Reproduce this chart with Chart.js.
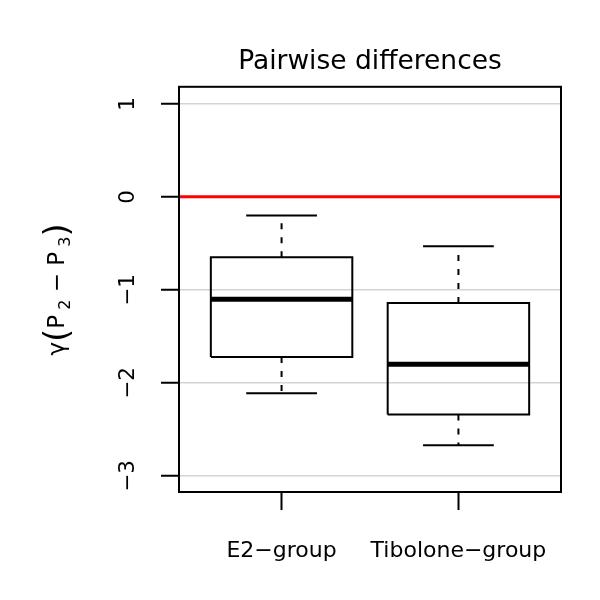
<!DOCTYPE html>
<html>
<head>
<meta charset="utf-8">
<script src="https://cdn.jsdelivr.net/npm/chart.js@4.4.1/dist/chart.umd.min.js"></script>
<style>
    html, body { margin: 0; padding: 0; background: #fff; }
</style>
</head>
<body>
<canvas id="chart" width="600" height="600"></canvas>
<script>
// values
const groups = ["E2\u2212group", "Tibolone\u2212group"];
const whiskerLow = [-2.11, -2.67];
const quartile1 = [-1.72, -2.34];
const medians = [-1.10, -1.80];
const quartile3 = [-0.65, -1.14];
const whiskerHigh = [-0.20, -0.53];
const yTicks = [-3, -2, -1, 0, 1];
const refValue = 0;

const FONT = "'DejaVu Sans', sans-serif";
const boxHalf = 0.4;
const stapleHalf = 0.2;
const xMin = 0.42;
const xMax = 2.58;

function seg(points, color, width, dash) {
    return {
        data: points,
        borderColor: color,
        borderWidth: width,
        borderDash: dash || [],
        pointRadius: 0,
        fill: false,
        tension: 0,
        borderCapStyle: "butt",
        borderJoinStyle: "miter",
    };
}

const datasets = [];
// red reference line on top (first dataset is drawn last)
datasets.push(seg([{ x: xMin, y: refValue }, { x: xMax, y: refValue }], "#ff0000", 3));

groups.forEach((g, i) => {
    const x = i + 1;
    datasets.push(seg([{ x: x - boxHalf, y: medians[i] }, { x: x + boxHalf, y: medians[i] }], "#000", 5));
    datasets.push(seg([
        { x: x - boxHalf, y: quartile1[i] },
        { x: x + boxHalf, y: quartile1[i] },
        { x: x + boxHalf, y: quartile3[i] },
        { x: x - boxHalf, y: quartile3[i] },
        { x: x - boxHalf, y: quartile1[i] },
    ], "#000", 2));
    datasets.push(seg([{ x: x, y: quartile3[i] }, { x: x, y: whiskerHigh[i] }], "#000", 2, [6, 8]));
    datasets.push(seg([{ x: x, y: quartile1[i] }, { x: x, y: whiskerLow[i] }], "#000", 2, [6, 8]));
    datasets.push(seg([{ x: x - stapleHalf, y: whiskerHigh[i] }, { x: x + stapleHalf, y: whiskerHigh[i] }], "#000", 2));
    datasets.push(seg([{ x: x - stapleHalf, y: whiskerLow[i] }, { x: x + stapleHalf, y: whiskerLow[i] }], "#000", 2));
});

// frame around the plot region, like R's box()
const framePlugin = {
    id: "frame",
    afterDatasetsDraw(chart) {
        const { ctx, chartArea: a } = chart;
        ctx.save();
        ctx.strokeStyle = "#000";
        ctx.lineWidth = 2;
        ctx.strokeRect(a.left, a.top, a.right - a.left, a.bottom - a.top);
        ctx.restore();
    },
};

// y axis label with subscripts and large brackets
const yTitlePlugin = {
    id: "yTitle",
    afterDraw(chart) {
        const { ctx, chartArea } = chart;
        const cy = (chartArea.top + chartArea.bottom) / 2;
        const parts = [
            { t: "\u03b3", size: 23, shift: 0 },
            { t: "(", size: 34, shift: 4 },
            { t: "P", size: 23, shift: 0 },
            { t: " 2", size: 16, shift: 6 },
            { t: " \u2212 ", size: 23, shift: 0 },
            { t: "P", size: 23, shift: 0 },
            { t: " 3", size: 16, shift: 6 },
            { t: ")", size: 34, shift: 4 },
        ];
        ctx.save();
        ctx.fillStyle = "#000";
        ctx.textBaseline = "alphabetic";
        ctx.textAlign = "left";
        let total = 0;
        parts.forEach(p => {
            ctx.font = p.size + "px " + FONT;
            p.w = ctx.measureText(p.t).width;
            total += p.w;
        });
        ctx.translate(64, cy);
        ctx.rotate(-Math.PI / 2);
        let x = -total / 2;
        parts.forEach(p => {
            ctx.font = p.size + "px " + FONT;
            ctx.fillText(p.t, x, p.shift);
            x += p.w;
        });
        ctx.restore();
    },
};

const ctx = document.getElementById("chart").getContext("2d");
new Chart(ctx, {
    type: "line",
    data: { datasets: datasets },
    options: {
        responsive: false,
        animation: false,
        layout: { padding: { left: 0, right: 39, top: 0, bottom: 0 } },
        plugins: {
            legend: { display: false },
            tooltip: { enabled: false },
            title: {
                display: true,
                text: "Pairwise differences",
                fullSize: false,
                color: "#000",
                font: { family: FONT, size: 26.5, weight: "normal" },
                padding: { top: 46, bottom: 9 },
            },
        },
        scales: {
            x: {
                type: "linear",
                min: xMin,
                max: xMax,
                afterBuildTicks: scale => {
                    scale.ticks = groups.map((g, i) => ({ value: i + 1 }));
                },
                afterFit: scale => { scale.height = 108; },
                grid: {
                    drawOnChartArea: false,
                    drawTicks: true,
                    tickLength: 18,
                    tickColor: "#000",
                    tickWidth: 2,
                },
                border: { display: true, color: "#000", width: 2 },
                ticks: {
                    color: "#000",
                    font: { family: FONT, size: 22 },
                    padding: 28,
                    maxRotation: 0,
                    minRotation: 0,
                    callback: value => groups[Math.round(value) - 1],
                },
            },
            y: {
                type: "linear",
                min: -3.172,
                max: 1.183,
                afterBuildTicks: scale => {
                    scale.ticks = yTicks.map(v => ({ value: v }));
                },
                afterFit: scale => { scale.width = 179; },
                grid: {
                    color: "#d3d3d3",
                    lineWidth: 1.5,
                    drawTicks: true,
                    tickLength: 18,
                    tickColor: "#000",
                    tickWidth: 2,
                },
                border: { display: true, color: "#000", width: 2 },
                ticks: {
                    color: "#000",
                    font: { family: FONT, size: 21.5 },
                    minRotation: 90,
                    maxRotation: 90,
                    crossAlign: "center",
                    padding: 17,
                    callback: value => String(value).replace("-", "\u2212"),
                },
            },
        },
    },
    plugins: [framePlugin, yTitlePlugin],
});
</script>
</body>
</html>
